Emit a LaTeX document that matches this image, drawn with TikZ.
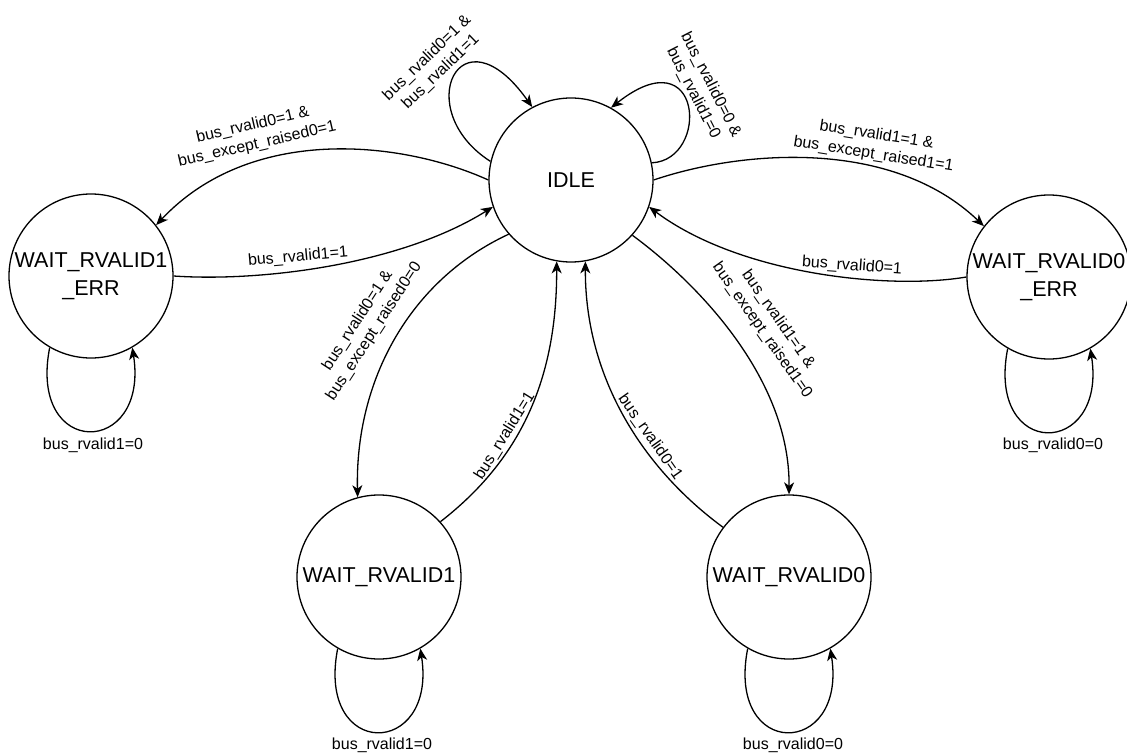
\documentclass[tikz,border=0pt]{standalone}
\usepackage{fontspec}
\setmainfont{Liberation Sans}
\usetikzlibrary{arrows.meta}
\begin{document}
\begin{tikzpicture}[x=1pt,y=-1pt,
  state/.style={circle, draw, line width=1.3pt, minimum size=164pt, inner sep=0pt,
    font=\fontsize{21.5}{28}\selectfont, align=center},
  lbl/.style={font=\fontsize{16}{19.5}\selectfont, align=center, inner sep=0pt},
  edge/.style={line width=1.3pt, -{Stealth[length=12pt,width=10pt,inset=3.5pt]}}]
\useasboundingbox (0,0) rectangle (1127,754);
\fill[white] (0,0) rectangle (1127,754);

\node[state] (idle) at (571,180) {IDLE};
\node[state] (err1) at (91,276) {WAIT\_RVALID1\\\_ERR};
\node[state] (err0) at (1049,277) {WAIT\_RVALID0\\\_ERR};
\node[state] (wr1) at (379,577) {WAIT\_RVALID1};
\node[state] (wr0) at (789,577) {WAIT\_RVALID0};

\draw[edge] (idle.180) .. controls (400,140) and (250,125) .. (err1.38);
\draw[edge] (err1.0) .. controls (260,282) and (400,265) .. (idle.199);
\draw[edge] (idle.0) .. controls (742,150) and (892,138) .. (err0.142);
\draw[edge] (err0.180) .. controls (890,290) and (740,275) .. (idle.341);
\draw[edge] (idle.221) .. controls (410,280) and (355,380) .. (wr1.105);
\draw[edge] (wr1.42) .. controls (520,460) and (557,380) .. (idle.260);
\draw[edge] (idle.318) .. controls (700,285) and (790,380) .. (wr0.90);
\draw[edge] (wr0.143) .. controls (645,470) and (585,380) .. (idle.280);
\draw[edge] (idle.167) .. controls (410,110) and (460,5) .. (idle.118);
\draw[edge] (idle.12) .. controls (710,160) and (703,35) .. (idle.61);
\draw[edge] (err1.240) .. controls +(-22,112) and +(17,110) .. (err1.300);
\draw[edge] (err0.240) .. controls +(-22,112) and +(17,110) .. (err0.300);
\draw[edge] (wr1.240) .. controls +(-22,112) and +(17,110) .. (wr1.300);
\draw[edge] (wr0.240) .. controls +(-22,112) and +(17,110) .. (wr0.300);

\node[lbl, rotate=13] (l1) at (255,135) {bus\_rvalid0=1 \&\\bus\_except\_raised0=1};
\node[lbl, rotate=5] (l2) at (298,257) {bus\_rvalid1=1};
\node[lbl, rotate=-9] (l3) at (875,145) {bus\_rvalid1=1 \&\\bus\_except\_raised1=1};
\node[lbl, rotate=-4] (l4) at (852,266) {bus\_rvalid0=1};
\node[lbl, rotate=57] (l5) at (366,326) {bus\_rvalid0=1 \&\\bus\_except\_raised0=0};
\node[lbl, rotate=58] (l6) at (505,436) {bus\_rvalid1=1};
\node[lbl, rotate=-55] (l7) at (770,325) {bus\_rvalid1=1 \&\\bus\_except\_raised1=0};
\node[lbl, rotate=-55] (l8) at (650,437) {bus\_rvalid0=1};
\node[lbl, rotate=44] (l9) at (434,65) {bus\_rvalid0=1 \&\\bus\_rvalid1=1};
\node[lbl, rotate=-63] (l10) at (702,89) {bus\_rvalid0=0 \&\\bus\_rvalid1=0};
\node[lbl] (l11) at (93,445) {bus\_rvalid1=0};
\node[lbl] (l12) at (1053,445) {bus\_rvalid0=0};
\node[lbl] (l13) at (382,745) {bus\_rvalid1=0};
\node[lbl] (l14) at (793,745) {bus\_rvalid0=0};
\end{tikzpicture}
\end{document}
